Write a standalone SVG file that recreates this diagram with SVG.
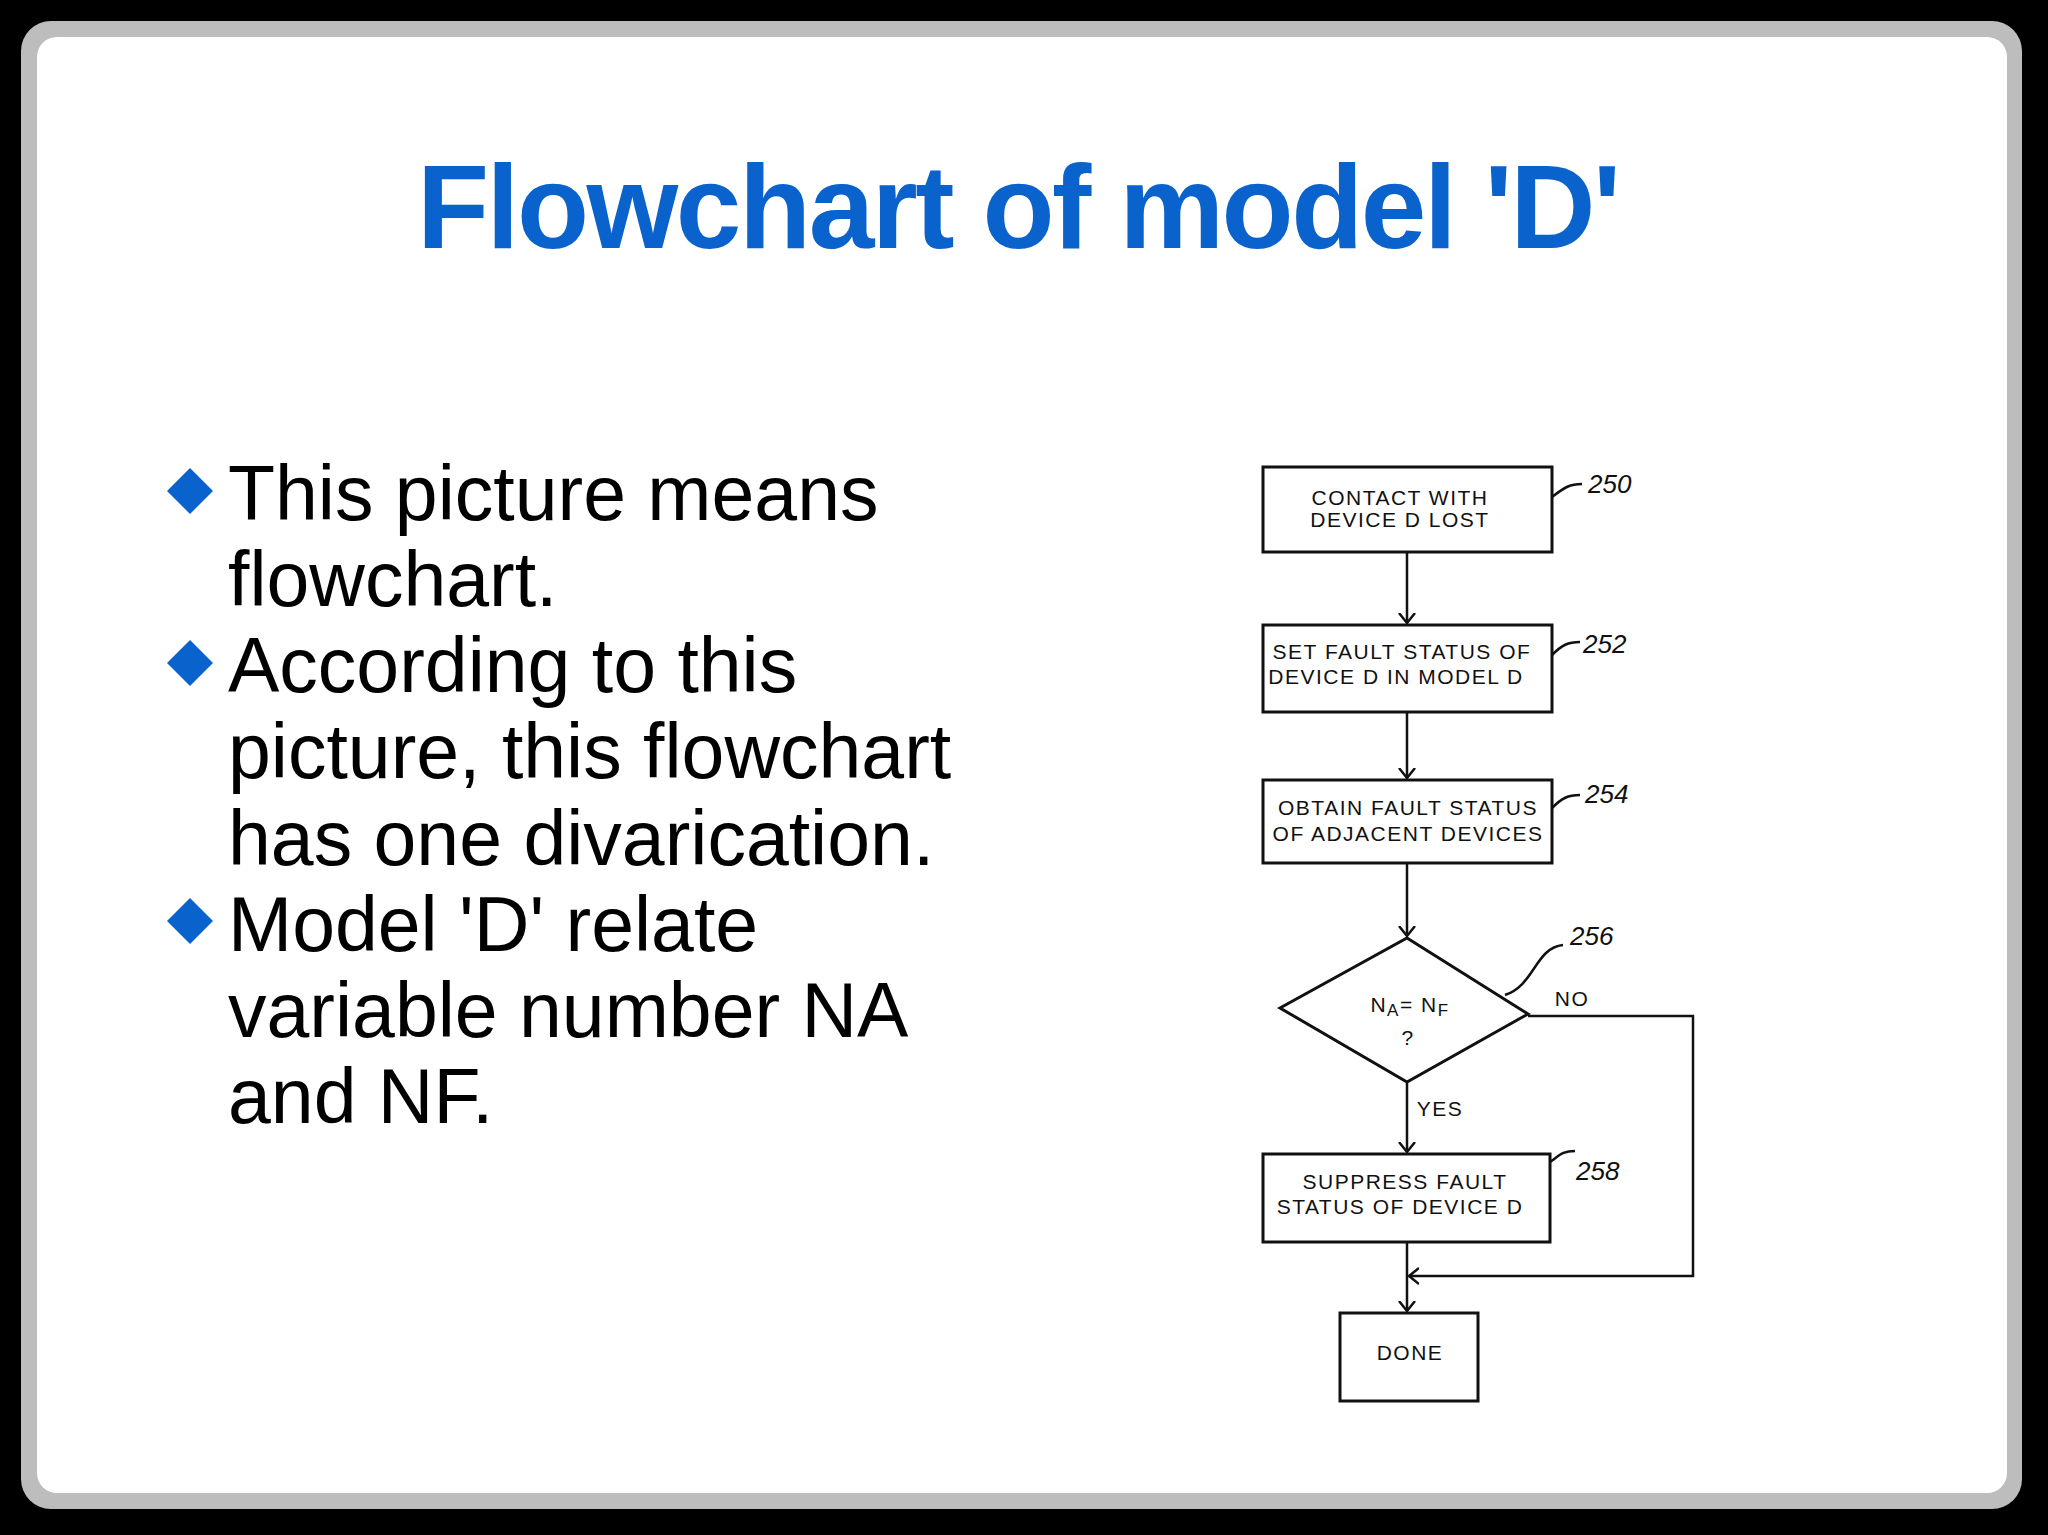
<svg xmlns="http://www.w3.org/2000/svg" width="2048" height="1535" viewBox="0 0 2048 1535">
<style>
.b{fill:#fff;stroke:#111;stroke-width:3}
.ft{font-family:"Liberation Sans",Arial,sans-serif;font-size:21px;letter-spacing:1.5px;fill:#111;text-anchor:middle}
.lb{font-family:"Liberation Sans",Arial,sans-serif;font-size:26px;font-style:italic;fill:#111}
.c{fill:none;stroke:#111;stroke-width:2.5}
.bt{font-family:"Liberation Sans",Arial,sans-serif;font-size:77px;fill:#000}
.bd{fill:#0a62cc}
</style>
<defs>
<marker id="a" markerWidth="20" markerHeight="20" refX="10" refY="10" orient="auto" markerUnits="userSpaceOnUse">
<path d="M0,2 L10,10 L0,18" fill="none" stroke="#111" stroke-width="2.5"/>
</marker>
</defs>
<rect width="2048" height="1535" fill="#000"/>
<rect x="21" y="21" width="2001" height="1488" rx="30" fill="#bdbdbd"/>
<rect x="37" y="37" width="1970" height="1456" rx="20" fill="#fff"/>
<text x="1019" y="248" text-anchor="middle" font-family="Liberation Sans,Arial,sans-serif" font-weight="bold" font-size="118" fill="#0a62cc" textLength="1204">Flowchart of model 'D'</text>
<g id="bullets">
<path class="bd" d="M190,468 L213,491 L190,514 L167,491Z"/>
<path class="bd" d="M190,640 L213,663 L190,686 L167,663Z"/>
<path class="bd" d="M190,898 L213,921 L190,944 L167,921Z"/>
<text class="bt" x="228" y="520">This picture means</text>
<text class="bt" x="228" y="606">flowchart.</text>
<text class="bt" x="228" y="692">According to this</text>
<text class="bt" x="228" y="778">picture, this flowchart</text>
<text class="bt" x="228" y="865">has one divarication.</text>
<text class="bt" x="228" y="951">Model 'D' relate</text>
<text class="bt" x="228" y="1037">variable number NA</text>
<text class="bt" x="228" y="1123">and NF.</text>
</g>
<g id="connectors">
<line class="c" x1="1407" y1="552" x2="1407" y2="623" marker-end="url(#a)"/>
<line class="c" x1="1407" y1="712" x2="1407" y2="778" marker-end="url(#a)"/>
<line class="c" x1="1407" y1="863" x2="1407" y2="936" marker-end="url(#a)"/>
<line class="c" x1="1407" y1="1082" x2="1407" y2="1152" marker-end="url(#a)"/>
<polyline class="c" points="1528,1016 1693,1016 1693,1276 1409,1276" marker-end="url(#a)"/>
<line class="c" x1="1407" y1="1242" x2="1407" y2="1311" marker-end="url(#a)"/>
<path class="c" d="M1552,497 C1565,487 1570,484 1582,484"/>
<path class="c" d="M1552,655 C1562,645 1568,642 1580,642"/>
<path class="c" d="M1552,808 C1562,798 1568,795 1580,795"/>
<path class="c" d="M1505,995 C1535,985 1535,948 1563,945"/>
<path class="c" d="M1550,1162 C1560,1155 1562,1151 1575,1151"/>
<text class="ft" x="1572" y="1006">NO</text>
<text class="ft" x="1440" y="1116">YES</text>
</g>
<g id="n250"><rect class="b" x="1263" y="467" width="289" height="85"/>
<text class="ft" x="1400" y="505">CONTACT WITH</text><text class="ft" x="1400" y="527">DEVICE D LOST</text>
<text class="lb" x="1588" y="493">250</text></g>
<g id="n252"><rect class="b" x="1263" y="625" width="289" height="87"/>
<text class="ft" x="1402" y="659">SET FAULT STATUS OF</text><text class="ft" x="1396" y="684">DEVICE D IN MODEL D</text>
<text class="lb" x="1583" y="653">252</text></g>
<g id="n254"><rect class="b" x="1263" y="780" width="289" height="83"/>
<text class="ft" x="1408" y="815">OBTAIN FAULT STATUS</text><text class="ft" x="1408" y="841">OF ADJACENT DEVICES</text>
<text class="lb" x="1585" y="803">254</text></g>
<g id="n256"><path class="b" d="M1407,938 L1528,1014 L1407,1082 L1280,1008Z"/>
<text class="ft" x="1410" y="1012">N<tspan font-size="17" dy="4">A</tspan><tspan dy="-4">= N</tspan><tspan font-size="17" dy="4">F</tspan></text>
<text class="ft" x="1408" y="1045">?</text>
<text class="lb" x="1570" y="945">256</text></g>
<g id="n258"><rect class="b" x="1263" y="1154" width="287" height="88"/>
<text class="ft" x="1405" y="1189">SUPPRESS FAULT</text><text class="ft" x="1400" y="1214">STATUS OF DEVICE D</text>
<text class="lb" x="1576" y="1180">258</text></g>
<g id="done"><rect class="b" x="1340" y="1313" width="138" height="88"/>
<text class="ft" x="1410" y="1360">DONE</text></g>
</svg>
